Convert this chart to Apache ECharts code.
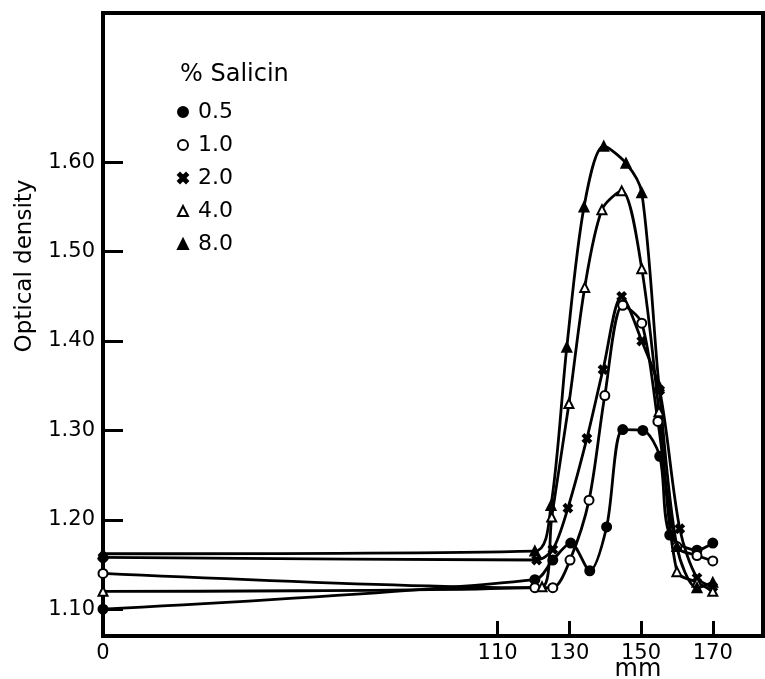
<!DOCTYPE html>
<html>
<head>
<meta charset="utf-8">
<script src="https://cdn.jsdelivr.net/npm/echarts@6/dist/echarts.min.js"></script>
<style>
  html, body { margin: 0; padding: 0; background: #fff; }
  #main { width: 765px; height: 679px; }
</style>
</head>
<body>
<div id="main"></div>
<script>
// optical density vs distance (mm), one series per % salicin
var names = ['0.5', '1.0', '2.0', '4.0', '8.0'];

var mm05 = [0, 120.4, 125.4, 130.4, 135.7, 140.4, 144.9, 150.5, 155.2, 158.0, 165.6, 170];
var od05 = [1.10, 1.133, 1.155, 1.174, 1.143, 1.192, 1.301, 1.300, 1.271, 1.183, 1.166, 1.174];

var mm10 = [0, 120.4, 125.4, 130.2, 135.5, 139.9, 144.9, 150.2, 154.7, 160.0, 165.6, 170];
var od10 = [1.14, 1.124, 1.124, 1.155, 1.222, 1.339, 1.44, 1.42, 1.31, 1.17, 1.16, 1.154];

var mm20 = [0, 120.9, 125.4, 129.6, 134.9, 139.4, 144.6, 150.2, 155.2, 160.8, 165.6, 170];
var od20 = [1.158, 1.155, 1.167, 1.213, 1.291, 1.368, 1.45, 1.40, 1.345, 1.19, 1.135, 1.125];

var mm40 = [0, 122.4, 125.1, 129.9, 134.3, 139.1, 144.6, 150.2, 155.0, 160.0, 165.6, 170];
var od40 = [1.12, 1.125, 1.203, 1.33, 1.46, 1.547, 1.568, 1.481, 1.321, 1.142, 1.13, 1.12];

var mm80 = [0, 120.4, 124.9, 129.3, 134.1, 139.6, 145.8, 150.2, 155.0, 160.0, 165.6, 170];
var od80 = [1.162, 1.165, 1.216, 1.393, 1.55, 1.618, 1.599, 1.566, 1.35, 1.17, 1.124, 1.13];

var yTicks = [1.10, 1.20, 1.30, 1.40, 1.50, 1.60];
var xLabels = [0, 110, 130, 150, 170];
var xTicks = [110, 130, 150, 170];

var symbols = [
    'circle',
    'emptyCircle',
    'path://M0,2L2,0L5,3L8,0L10,2L7,5L10,8L8,10L5,7L2,10L0,8L3,5Z',
    'emptyTriangle',
    'triangle'
];
var xs = [mm05, mm10, mm20, mm40, mm80];
var ys = [od05, od10, od20, od40, od80];

function pairs(a, b) {
    var out = [];
    for (var i = 0; i < a.length; i++) {
        out.push([a[i], b[i]]);
    }
    return out;
}

var series = [];
var legendData = [];
for (var i = 0; i < names.length; i++) {
    series.push({
        name: names[i],
        type: 'line',
        smooth: 0.3,
        symbol: symbols[i],
        symbolSize: i == 2 ? 8 : 9,
        showAllSymbol: true,
        lineStyle: { color: '#000', width: 2.8 },
        itemStyle: { color: '#000', borderColor: '#000', borderWidth: 2 },
        z: 3,
        data: pairs(xs[i], ys[i])
    });
    legendData.push({ name: names[i], icon: symbols[i] });
}

var myChart = echarts.init(document.getElementById('main'));
var font = 'DejaVu Sans';
var options = {
    animation: false,
    backgroundColor: '#fff',
    grid: {
        left: 103, right: 2, top: 13, bottom: 43,
        show: true, borderColor: '#000', borderWidth: 4
    },
    title: {
        text: '% Salicin',
        left: 175, top: 58,
        textStyle: { fontFamily: font, fontSize: 24, fontWeight: 'normal', color: '#000' }
    },
    legend: {
        orient: 'vertical',
        left: 172, top: 96,
        itemWidth: 10, itemHeight: 10,
        itemGap: 11,
        data: legendData,
        textStyle: { fontFamily: font, fontSize: 22, color: '#000', lineHeight: 22, padding: [0, 0, 0, 5] }
    },
    xAxis: {
        type: 'value',
        min: 0, max: 184,
        splitLine: { show: false },
        axisLine: { lineStyle: { color: '#000', width: 4 } },
        axisTick: { inside: true, length: 15, customValues: xTicks, lineStyle: { color: '#000', width: 3 } },
        axisLabel: {
            customValues: xLabels, margin: 7,
            fontFamily: font, fontSize: 21, color: '#000'
        }
    },
    yAxis: {
        type: 'value',
        min: 1.07, max: 1.767,
        splitLine: { show: false },
        axisLine: { lineStyle: { color: '#000', width: 4 } },
        axisTick: { inside: true, length: 20, customValues: yTicks, lineStyle: { color: '#000', width: 3 } },
        axisLabel: {
            customValues: yTicks, margin: 8,
            fontFamily: font, fontSize: 21, color: '#000',
            formatter: function (v) { return v.toFixed(2); }
        }
    },
    graphic: [
        {
            type: 'text', x: 25, y: 266, rotation: Math.PI / 2,
            style: {
                text: 'Optical density', fontFamily: font, fontSize: 23, fill: '#000',
                align: 'center', verticalAlign: 'middle'
            }
        },
        {
            type: 'text', x: 638, y: 670,
            style: {
                text: 'mm', fontFamily: font, fontSize: 24, fill: '#000',
                align: 'center', verticalAlign: 'middle'
            }
        }
    ],
    series: series
};
myChart.setOption(options, true);
</script>
</body>
</html>
